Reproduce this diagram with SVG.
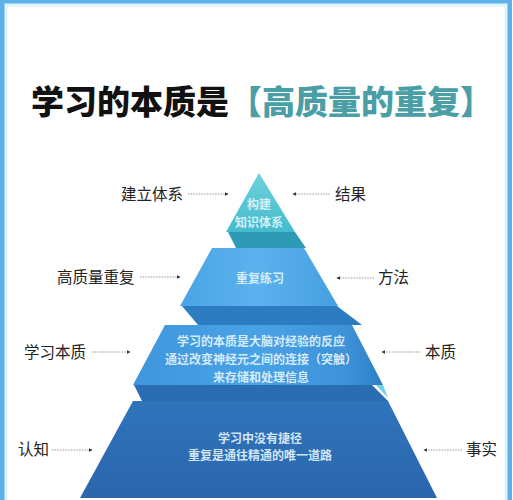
<svg xmlns="http://www.w3.org/2000/svg" width="513" height="500" viewBox="0 0 513 500">
<defs>
<style>
.lbl{font-family:"Noto Sans CJK SC","Noto Sans",sans-serif;font-size:15.5px;fill:#222;}
.tt{font-family:"Noto Sans CJK SC","Noto Sans",sans-serif;font-size:12px;font-weight:bold;fill:#e6f7ff;text-anchor:middle;opacity:0.88}
.con{stroke:#8a8a8a;stroke-width:0.9;stroke-dasharray:1.5 1.2;fill:none;marker-end:url(#ah)}
</style>
<marker id="ah" viewBox="0 0 6 6" refX="5" refY="3" markerWidth="4" markerHeight="4" orient="auto">
<path d="M0,0 L6,3 L0,6 Z" fill="#333"/>
</marker>
<linearGradient id="g1" x1="0" y1="0" x2="0" y2="1"><stop offset="0" stop-color="#6fd2dc"/><stop offset="1" stop-color="#43bccd"/></linearGradient>
<linearGradient id="g2" x1="0" y1="0" x2="1" y2="0"><stop offset="0" stop-color="#4aa4e4"/><stop offset="0.5" stop-color="#5cb2ee"/><stop offset="1" stop-color="#469fe0"/></linearGradient>
<linearGradient id="g3" x1="0" y1="0" x2="1" y2="0"><stop offset="0" stop-color="#3f96dc"/><stop offset="0.5" stop-color="#4aa2e6"/><stop offset="0.85" stop-color="#3d92d8"/><stop offset="1" stop-color="#2f7fc6"/></linearGradient>
<linearGradient id="g4" x1="0" y1="0" x2="0" y2="1"><stop offset="0" stop-color="#2f74bb"/><stop offset="1" stop-color="#2b66ad"/></linearGradient>
</defs>
<rect x="3" y="2.5" width="506" height="510" fill="#ffffff" stroke="#5cb2e8" stroke-width="6"/>
<rect x="6" y="5" width="500" height="500" fill="none" stroke="#dff4fb" stroke-width="3"/>

<g id="title">
<text x="31" y="114" font-family="'Noto Sans CJK SC',sans-serif" font-size="33" font-weight="900" fill="#111">学习的本质是<tspan fill="#4a9ea6">【高质量的重复】</tspan></text>
</g>

<g id="tier1">
<polygon points="228,232 295,232 306,248 236,248" fill="#2f9ab6"/>
<polygon points="259,173 295,232 226,232" fill="url(#g1)"/>
<text class="tt" x="259" y="209">构建</text>
<text class="tt" x="259" y="227">知识体系</text>
</g>

<g id="tier2">
<polygon points="182,306 337,306 362,325 198,325" fill="#2c7cc2"/>
<polygon points="212,248 304,248 338,306 180,306" fill="url(#g2)"/>
<text class="tt" x="260" y="283">重复练习</text>
</g>

<g id="tier3">
<polygon points="134,385 372,385 388,401 142,401" fill="#2a6db2"/>
<polygon points="376,385 383,385 388,398" fill="#6fd0e8"/>
<polygon points="165,325 352,325 383,385 133,385" fill="url(#g3)"/>
<text class="tt" x="261" y="346">学习的本质是大脑对经验的反应</text>
<text class="tt" x="261" y="364">通过改变神经元之间的连接（突触）</text>
<text class="tt" x="261" y="382">来存储和处理信息</text>
</g>

<g id="tier4">
<polygon points="133,401 388,401 437,498 80,498" fill="url(#g4)"/>
<text class="tt" x="260" y="443">学习中没有捷径</text>
<text class="tt" x="260" y="460">重复是通往精通的唯一道路</text>
</g>

<g id="labels">
<g id="l1"><text class="lbl" x="121" y="200">建立体系</text></g>
<g id="r1"><text class="lbl" x="335" y="200">结果</text></g>
<g id="l2"><text class="lbl" x="57" y="283">高质量重复</text></g>
<g id="r2"><text class="lbl" x="378" y="283">方法</text></g>
<g id="l3"><text class="lbl" x="24" y="358">学习本质</text></g>
<g id="r3"><text class="lbl" x="425" y="358">本质</text></g>
<g id="l4"><text class="lbl" x="18" y="455">认知</text></g>
<g id="r4"><text class="lbl" x="466" y="455">事实</text></g>
</g>

<g id="connectors">
<line class="con" x1="188" y1="194" x2="228" y2="194"/>
<line class="con" x1="330" y1="194" x2="293" y2="194"/>
<line class="con" x1="140" y1="277" x2="180" y2="277"/>
<line class="con" x1="374" y1="278" x2="337" y2="278"/>
<line class="con" x1="92" y1="352" x2="130" y2="352"/>
<line class="con" x1="420" y1="352" x2="382" y2="352"/>
<line class="con" x1="52" y1="450" x2="92" y2="450"/>
<line class="con" x1="462" y1="450" x2="424" y2="450"/>
</g>
</svg>
